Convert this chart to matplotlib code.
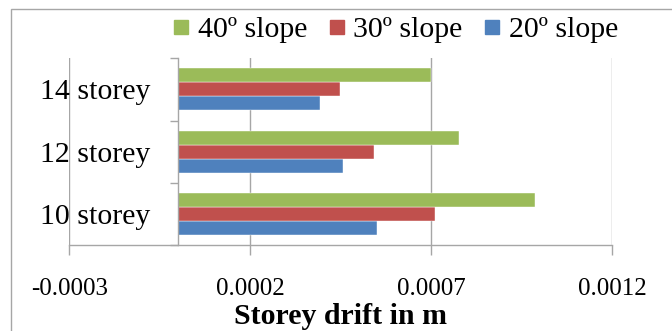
import matplotlib
matplotlib.use("Agg")
import matplotlib.pyplot as plt
from matplotlib.lines import Line2D
from matplotlib.patches import Rectangle
import numpy as np

# Storey drift data (m) per building height and slope angle
categories = ["10 storey", "12 storey", "14 storey"]
slope20 = [0.000551, 0.000457, 0.000393]
slope30 = [0.000710, 0.000543, 0.000448]
slope40 = [0.000986, 0.000776, 0.000700]
series_names = ["20º slope", "30º slope", "40º slope"]
x_ticks = [-0.0003, 0.0002, 0.0007, 0.0012]
x_tick_labels = ["-0.0003", "0.0002", "0.0007", "0.0012"]

colors = ["#4F81BD", "#C0504D", "#9BBB59"]
grid_gray = "#A6A6A6"

plt.rcParams["font.family"] = ["Liberation Serif", "DejaVu Serif"]

W, H = 672, 331
fig = plt.figure(figsize=(W / 100, H / 100), dpi=100)
ax = fig.add_axes([69.3 / W, 1 - 245 / H, (612 - 69.3) / W, (245 - 58.3) / H])

# Outer chart frame (left and top edges visible)
fig.add_artist(Rectangle((11 / W, -0.05), 1.1, (1 - 9 / H) + 0.05,
                         transform=fig.transFigure, fill=False,
                         edgecolor=grid_gray, linewidth=1.0, zorder=0))

y = np.arange(len(categories))
h = 0.225
for vals, off, c in zip([slope20, slope30, slope40], [-h, 0, h], colors):
    ax.barh(y + off, vals, height=h, color=c, edgecolor="white",
            linewidth=0.3, zorder=3)

ax.set_xlim(x_ticks[0], x_ticks[-1])
ax.set_ylim(-0.5, len(categories) - 0.5)

# Vertical gridlines at the major x ticks
ax.set_xticks(x_ticks)
ax.set_xticklabels(x_tick_labels, fontsize=18)
for xv in x_ticks:
    ax.axvline(xv, color=grid_gray, linewidth=1.0, zorder=1)

ax.tick_params(axis="x", direction="out", length=7, width=1.0,
               color=grid_gray, pad=17)

# Category axis sits at x = 0, with tick marks between categories
ax.spines["left"].set_position(("data", 0))
ax.spines["left"].set_color(grid_gray)
ax.spines["left"].set_linewidth(1.0)
ax.spines["left"].set_zorder(4)
ax.spines["bottom"].set_color(grid_gray)
ax.spines["bottom"].set_linewidth(1.0)
ax.spines["top"].set_visible(False)
ax.spines["right"].set_visible(False)

ax.set_yticks(np.arange(-0.5, len(categories), 1.0))
ax.set_yticklabels([])
ax.tick_params(axis="y", which="major", direction="out", length=6,
               width=1.0, color=grid_gray)
ax.set_yticks(y, minor=True)
ax.set_yticklabels(categories, minor=True, fontsize=21.5)
ax.tick_params(axis="y", which="minor", length=0, pad=20)

ax.set_xlabel("Storey drift in m", fontsize=21.5, fontweight="bold",
              labelpad=2)

handles = [Line2D([], [], linestyle="none", marker="s", markersize=10,
                  markerfacecolor=c, markeredgecolor=c)
           for c in colors[::-1]]
fig.legend(handles, series_names[::-1], loc="center",
           bbox_to_anchor=(396 / W, 1 - 30 / H), ncol=3, frameon=False,
           fontsize=21.5, handlelength=0.5, handletextpad=0.3,
           columnspacing=0.75, borderpad=0, borderaxespad=0)

fig.savefig("out.png", dpi=100)
